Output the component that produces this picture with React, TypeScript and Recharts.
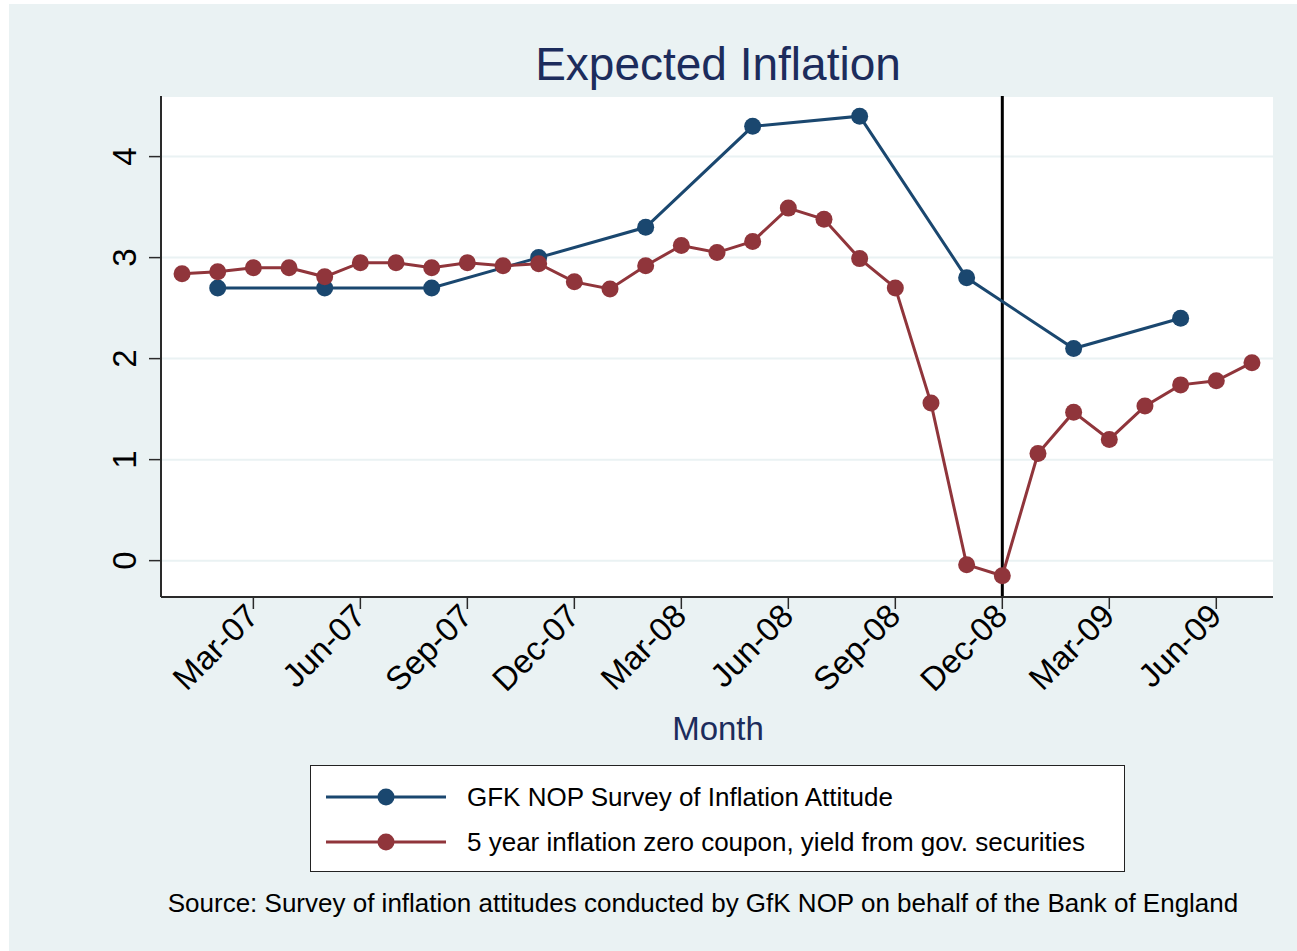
import { LineChart, Line, XAxis, YAxis, CartesianGrid, ReferenceLine, Legend } from "recharts";

const MONTHS = [
  "Jan-07", "Feb-07", "Mar-07", "Apr-07", "May-07", "Jun-07", "Jul-07", "Aug-07", "Sep-07", "Oct-07", "Nov-07", "Dec-07",
  "Jan-08", "Feb-08", "Mar-08", "Apr-08", "May-08", "Jun-08", "Jul-08", "Aug-08", "Sep-08", "Oct-08", "Nov-08", "Dec-08",
  "Jan-09", "Feb-09", "Mar-09", "Apr-09", "May-09", "Jun-09", "Jul-09",
];

// quarterly tick positions (month index)
const X_TICKS = [2, 5, 8, 11, 14, 17, 20, 23, 26, 29];
const Y_TICKS = [0, 1, 2, 3, 4];

// 5 year inflation zero coupon, monthly
const ZERO_COUPON = [
  2.84, 2.86, 2.9, 2.9, 2.81, 2.95, 2.95, 2.9, 2.95, 2.92, 2.94, 2.76,
  2.69, 2.92, 3.12, 3.05, 3.16, 3.49, 3.38, 2.99, 2.7, 1.56, -0.04, -0.15,
  1.06, 1.47, 1.2, 1.53, 1.74, 1.78, 1.96,
];

// GfK NOP survey, quarterly
const SURVEY_MONTHS = [1, 4, 7, 10, 13, 16, 19, 22, 25, 28];
const SURVEY_VALUES = [2.7, 2.7, 2.7, 3.0, 3.3, 4.3, 4.4, 2.8, 2.1, 2.4];

const BREAK_MONTH = 23;

const NAVY = "#1a476f";
const MAROON = "#90353b";
const BG = "#eaf2f3";
const TITLE = "#1c2c5c";
const FONT = "'Liberation Sans', Arial, sans-serif";

const SERIES = [
  { key: "survey", label: "GFK NOP Survey of Inflation Attitude", color: NAVY },
  { key: "coupon", label: "5 year inflation zero coupon, yield from gov. securities", color: MAROON },
];

const couponData = ZERO_COUPON.map((v, i) => ({ m: i, v }));
const surveyData = SURVEY_MONTHS.map((m, i) => ({ m, v: SURVEY_VALUES[i] }));

function XTick({ x, y, payload }: any) {
  const tx = x + 7;
  const ty = y + 9;
  return (
    <text x={tx} y={ty} textAnchor="end" transform={`rotate(-45, ${tx}, ${ty})`} fontSize={33} fill="#000" fontFamily={FONT}>
      {MONTHS[payload.value]}
    </text>
  );
}

function YTick({ x, y, payload }: any) {
  const tx = x - 13;
  return (
    <text x={tx} y={y} textAnchor="middle" transform={`rotate(-90, ${tx}, ${y})`} fontSize={33} fill="#000" fontFamily={FONT}>
      {payload.value}
    </text>
  );
}

function LegendBox() {
  return (
    <div
      style={{
        width: 815,
        height: 107,
        boxSizing: "border-box",
        border: "1.5px solid #222",
        background: "#fff",
        fontFamily: FONT,
        fontSize: 26,
        color: "#000",
        position: "relative",
      }}
    >
      {SERIES.map((s, i) => (
        <div key={s.key} style={{ position: "absolute", left: 0, top: 13 + i * 45, height: 36, display: "flex", alignItems: "center" }}>
          <svg width={150} height={36} style={{ display: "block" }}>
            <line x1={15} y1={18} x2={135} y2={18} stroke={s.color} strokeWidth={3} />
            <circle cx={75} cy={18} r={8.5} fill={s.color} />
          </svg>
          <span style={{ marginLeft: 6, whiteSpace: "nowrap" }}>{s.label}</span>
        </div>
      ))}
    </div>
  );
}

export default function App() {
  return (
    <div style={{ position: "absolute", left: 0, top: 0, width: 1297, height: 951, background: "#fff", overflow: "hidden" }}>
      <div style={{ position: "absolute", left: 9, top: 4, width: 1288, height: 947, background: BG }} />
      <div style={{ position: "absolute", left: 0, top: 0 }}>
        <LineChart width={1297} height={951} data={couponData} margin={{ top: 96, right: 24, bottom: 254, left: 0 }}>
          <CartesianGrid vertical={false} stroke={BG} strokeWidth={2} fill="#fff" fillOpacity={1} />
          <XAxis
            dataKey="m"
            type="number"
            domain={[-0.59, 30.59]}
            ticks={X_TICKS}
            interval={0}
            height={100}
            tickSize={12}
            tickMargin={0}
            tick={<XTick />}
            axisLine={{ stroke: "#2a2a2a", strokeWidth: 2 }}
            tickLine={{ stroke: "#2a2a2a", strokeWidth: 1.5 }}
            allowDataOverflow
          />
          <YAxis
            type="number"
            domain={[-0.36, 4.6]}
            ticks={Y_TICKS}
            interval={0}
            width={161}
            tickSize={12}
            tickMargin={0}
            tick={<YTick />}
            axisLine={{ stroke: "#2a2a2a", strokeWidth: 2 }}
            tickLine={{ stroke: "#2a2a2a", strokeWidth: 1.5 }}
            allowDataOverflow
          />
          <ReferenceLine x={BREAK_MONTH} stroke="#000" strokeWidth={3} />
          <Line
            data={surveyData}
            dataKey="v"
            name={SERIES[0].label}
            stroke={NAVY}
            strokeWidth={3}
            dot={{ r: 8.5, fill: NAVY, stroke: NAVY, strokeWidth: 0 }}
            isAnimationActive={false}
          />
          <Line
            data={couponData}
            dataKey="v"
            name={SERIES[1].label}
            stroke={MAROON}
            strokeWidth={3}
            dot={{ r: 8.5, fill: MAROON, stroke: MAROON, strokeWidth: 0 }}
            isAnimationActive={false}
          />
          <Legend
            layout="horizontal"
            verticalAlign="middle"
            align="center"
            wrapperStyle={{ left: 310, top: 765, width: 815, height: 107 }}
            content={() => <LegendBox />}
          />
        </LineChart>
      </div>
      <svg width={1297} height={951} style={{ position: "absolute", left: 0, top: 0, pointerEvents: "none" }}>
        <text x={718} y={80} textAnchor="middle" fontSize={46} fill={TITLE} fontFamily={FONT}>
          Expected Inflation
        </text>
        <text x={718} y={740} textAnchor="middle" fontSize={33} fill={TITLE} fontFamily={FONT}>
          Month
        </text>
        <text x={703} y={912} textAnchor="middle" fontSize={26} fill="#000" fontFamily={FONT}>
          Source: Survey of inflation attitudes conducted by GfK NOP on behalf of the Bank of England
        </text>
      </svg>
    </div>
  );
}
